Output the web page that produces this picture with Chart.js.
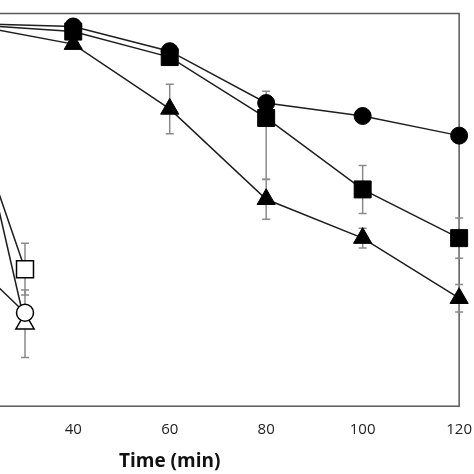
<!DOCTYPE html>
<html>
<head>
<meta charset="utf-8">
<script src="https://cdn.jsdelivr.net/npm/chart.js@4.4.1/dist/chart.umd.min.js"></script>
<style>
    html, body { margin: 0; padding: 0; background: #fff; overflow: hidden; }
    body { width: 474px; height: 474px; position: relative; }
    /* the left part of the figure (y axis, t=0..25) lies outside the picture */
    #wrap { position: absolute; left: -139px; top: 0; width: 626px; height: 474px; }
</style>
</head>
<body>
<div id="wrap"><canvas id="chart"></canvas></div>
<script>
// --------------------
// Data
// --------------------
const filledTimes = [0, 20, 40, 60, 80, 100, 120];
const openTimes = [0, 20, 30];
const xTicks = [0, 20, 40, 60, 80, 100, 120];

const circleFilled = [100, 97.4, 96.7, 90.4, 77.2, 73.9, 68.9];
const squareFilled = [100, 97.1, 95.4, 88.9, 73.4, 55.2, 42.8];
const triangleFilled = [100, 96.8, 92.2, 75.7, 52.7, 42.8, 27.5];

const circleOpen = [100, 35.6, 23.8];
const squareOpen = [100, 70.6, 34.9];
const triangleOpen = [100, 74.6, 21.0];

// error bars: a number is +/-, a pair is [minus, plus]
const circleFilledErr = [0, 0, 0, 0, 3.0, 0, 0];
const squareFilledErr = [0, 0, 0, 0, [15.7, 0], 6.1, 5.1];
const triangleFilledErr = [0, 0, 0, 6.3, 5.1, 2.5, 3.5];
const circleOpenErr = [0, 0, 0];
const squareOpenErr = [0, 0, 6.6];
const triangleOpenErr = [0, 0, 8.6];

const LINE = '#1e1e1e';
const AXIS = '#5a5a5a';
const ERR = '#8a8a8a';
const FONT = "'Open Sans', 'Noto Sans', sans-serif";

function points(times, values) {
    return times.map((t, i) => ({ x: t, y: values[i] }));
}

function series(label, times, values, errs, style, radius, filled) {
    return {
        label: label,
        data: points(times, values),
        errors: errs,
        showLine: true,
        borderColor: LINE,
        borderWidth: 1.5,
        pointStyle: style,
        pointRadius: radius,
        pointHoverRadius: radius,
        pointBackgroundColor: filled ? '#000' : '#fff',
        pointBorderColor: '#000',
        pointBorderWidth: filled ? 1 : 1.5,
        clip: false,
    };
}

// frame around the plot area, under the markers
const framePlugin = {
    id: 'frame',
    beforeDatasetsDraw(chart) {
        const { ctx, chartArea } = chart;
        ctx.save();
        ctx.strokeStyle = AXIS;
        ctx.lineWidth = 1.5;
        ctx.strokeRect(chartArea.left, chartArea.top, chartArea.right - chartArea.left, chartArea.bottom - chartArea.top);
        ctx.restore();
    }
};

const errorBarPlugin = {
    id: 'errorBars',
    beforeDatasetsDraw(chart) {
        const { ctx } = chart;
        const yScale = chart.scales.y;
        ctx.save();
        ctx.strokeStyle = ERR;
        ctx.lineWidth = 1.5;
        chart.data.datasets.forEach((ds, i) => {
            const meta = chart.getDatasetMeta(i);
            meta.data.forEach((pt, j) => {
                const e = ds.errors[j];
                if (!e) return;
                const lo = Array.isArray(e) ? e[0] : e;
                const hi = Array.isArray(e) ? e[1] : e;
                const v = ds.data[j].y;
                const yTop = yScale.getPixelForValue(v + hi);
                const yBot = yScale.getPixelForValue(v - lo);
                ctx.beginPath();
                ctx.moveTo(pt.x, yTop);
                ctx.lineTo(pt.x, yBot);
                if (hi > 0) { ctx.moveTo(pt.x - 4, yTop); ctx.lineTo(pt.x + 4, yTop); }
                if (lo > 0) { ctx.moveTo(pt.x - 4, yBot); ctx.lineTo(pt.x + 4, yBot); }
                ctx.stroke();
            });
        });
        ctx.restore();
    }
};

const config = {
    type: 'scatter',
    data: {
        datasets: [
            series('Circle', filledTimes, circleFilled, circleFilledErr, 'circle', 8.5, true),
            series('Square', filledTimes, squareFilled, squareFilledErr, 'rect', 12, true),
            series('Triangle', filledTimes, triangleFilled, triangleFilledErr, 'triangle', 10.5, true),
            series('Circle open', openTimes, circleOpen, circleOpenErr, 'circle', 8.5, false),
            series('Square open', openTimes, squareOpen, squareOpenErr, 'rect', 12, false),
            series('Triangle open', openTimes, triangleOpen, triangleOpenErr, 'triangle', 10.5, false),
        ]
    },
    options: {
        responsive: true,
        maintainAspectRatio: false,
        animation: false,
        layout: { padding: { left: 10, right: 2, top: 10, bottom: 1 } },
        plugins: {
            legend: { display: false },
            tooltip: { enabled: false },
        },
        scales: {
            x: {
                type: 'linear',
                min: 0,
                max: 120,
                afterBuildTicks: (scale) => { scale.ticks = xTicks.map(v => ({ value: v })); },
                grid: { display: false, drawTicks: false },
                border: { display: false },
                ticks: {
                    padding: 15,
                    color: '#222',
                    font: { family: FONT, size: 15 },
                },
                title: {
                    display: true,
                    text: 'Time (min)',
                    color: '#111',
                    font: { family: FONT, size: 19, weight: 'bold' },
                    padding: { top: -4, bottom: 0 },
                },
            },
            y: {
                display: false,
                min: 0,
                max: 100,
            },
        },
    },
    plugins: [framePlugin, errorBarPlugin],
};

new Chart(document.getElementById('chart'), config);
</script>
</body>
</html>
